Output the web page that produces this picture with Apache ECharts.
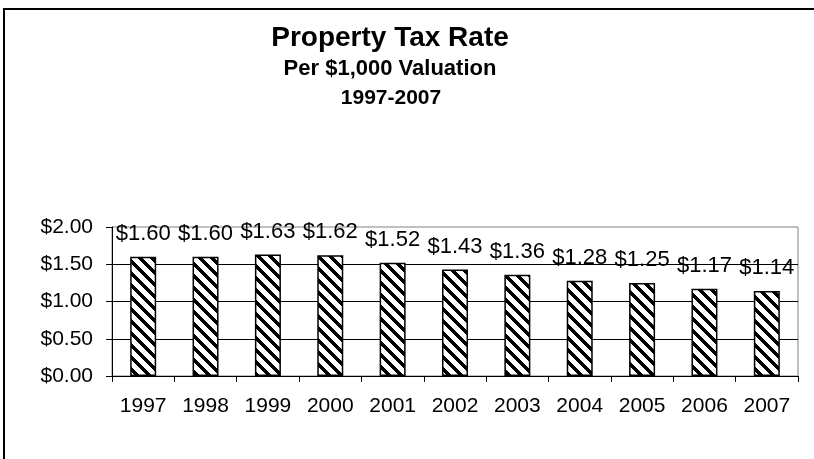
<!DOCTYPE html>
<html>
<head>
<meta charset="utf-8">
<script src="https://cdn.jsdelivr.net/npm/echarts@6/dist/echarts.min.js"></script>
<style>
html,body{margin:0;padding:0;background:#fff;}
#chart{width:814px;height:459px;}
</style>
</head>
<body>
<div id="chart"></div>
<script>
var years = ['1997','1998','1999','2000','2001','2002','2003','2004','2005','2006','2007'];
var rates = [1.60, 1.60, 1.63, 1.62, 1.52, 1.43, 1.36, 1.28, 1.25, 1.17, 1.14];
var yTicks = { min: 0, max: 2, interval: 0.5 };
var titleText = 'Property Tax Rate';
var subText1 = 'Per $1,000 Valuation';
var subText2 = '1997-2007';

function makeHatch() {
  var s = 12, w = 5;
  var c = document.createElement('canvas');
  c.width = s; c.height = s;
  var ctx = c.getContext('2d');
  var img = ctx.createImageData(s, s);
  for (var y = 0; y < s; y++) {
    for (var x = 0; x < s; x++) {
      var d = ((x - y) % s + s) % s;
      var v = d < w ? 0 : 255;
      var i = (y * s + x) * 4;
      img.data[i] = v; img.data[i+1] = v; img.data[i+2] = v; img.data[i+3] = 255;
    }
  }
  ctx.putImageData(img, 0, 0);
  return c;
}

var chart = echarts.init(document.getElementById('chart'), null, {renderer: 'canvas'});
var font = '"Liberation Sans", Arial, sans-serif';
chart.setOption({
  backgroundColor: '#fff',
  animation: false,
  graphic: [
    { type: 'rect', shape: { x: 4, y: 9, width: 900, height: 600 }, style: { fill: 'none', stroke: '#000', lineWidth: 2 }, z: 100, silent: true },
    { type: 'text', x: 390, y: 38, style: { text: titleText, font: 'bold 28px ' + font, fill: '#000', textAlign: 'center', textVerticalAlign: 'middle' } },
    { type: 'text', x: 390, y: 69, style: { text: subText1, font: 'bold 22px ' + font, fill: '#000', textAlign: 'center', textVerticalAlign: 'middle' } },
    { type: 'text', x: 391, y: 98, style: { text: subText2, font: 'bold 21px ' + font, fill: '#000', textAlign: 'center', textVerticalAlign: 'middle' } }
  ],
  grid: { left: 112, right: 16, top: 227, bottom: 83, show: true, borderColor: '#808080', borderWidth: 1, backgroundColor: 'transparent' },
  xAxis: {
    type: 'category',
    data: years,
    boundaryGap: true,
    axisLine: { show: true, lineStyle: { color: '#000', width: 1 } },
    axisTick: { show: true, alignWithLabel: false, length: 6, inside: false, lineStyle: { color: '#000' } },
    axisLabel: { color: '#000', fontSize: 21, fontFamily: font, margin: 20, interval: 0 },
    splitLine: { show: false }
  },
  yAxis: {
    type: 'value',
    min: yTicks.min, max: yTicks.max, interval: yTicks.interval,
    axisLine: { show: true, lineStyle: { color: '#000', width: 1 } },
    axisTick: { show: true, length: 6, lineStyle: { color: '#000' } },
    axisLabel: { color: '#000', fontSize: 21, fontFamily: font, margin: 19, formatter: function (v) { return '$' + v.toFixed(2); } },
    splitLine: { show: true, showMaxLine: false, lineStyle: { color: '#000', width: 1 } }
  },
  series: [{
    type: 'bar',
    data: rates,
    barWidth: 26,
    itemStyle: {
      color: { image: makeHatch(), repeat: 'repeat' },
      borderColor: '#000',
      borderWidth: 1.5
    },
    label: {
      show: true,
      position: 'top',
      distance: 12,
      color: '#000',
      fontSize: 22,
      fontFamily: font,
      formatter: function (p) { return '$' + p.value.toFixed(2); }
    }
  }]
});
</script>
</body>
</html>
